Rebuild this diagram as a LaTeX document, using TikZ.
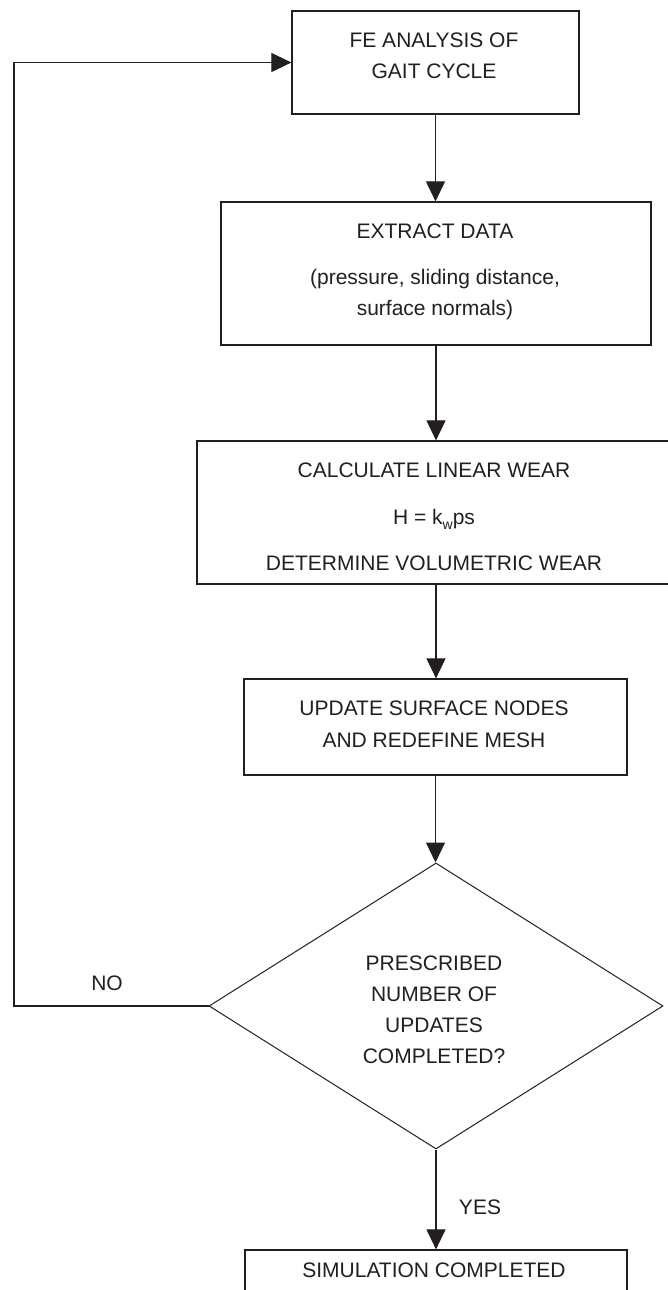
\documentclass[tikz,border=0pt]{standalone}
\usepackage{fontspec}
\setmainfont{Liberation Sans}
\usetikzlibrary{arrows.meta,shapes.geometric}
\definecolor{ink}{RGB}{35,31,32}
\begin{document}
\begin{tikzpicture}[x=1pt,y=-1pt,
  box/.style={draw=ink,line width=1.2pt,rectangle,inner sep=0pt,minimum width=#1},
  dec/.style={draw=ink,line width=1pt,diamond,inner sep=0pt,minimum width=454pt,minimum height=286pt},
  txt/.style={text=ink,font=\fontsize{21}{25}\selectfont,text height=15pt,text depth=0pt,inner sep=0pt,anchor=center},
  conn/.style={draw=ink,line width=1.1pt,-{Triangle[length=20pt,width=19pt]}},
  plain/.style={draw=ink,line width=1.1pt}]
\useasboundingbox (0,0) rectangle (668,1290);
\clip (0,0) rectangle (668,1290);
\fill[white] (0,0) rectangle (668,1290);
% boxes
\node[box=287pt,minimum height=103pt] (b1) at (435.5,62.5) {};
\node[box=430pt,minimum height=143pt] (b2) at (436,273.5) {};
\node[box=478pt,minimum height=143pt] (b3) at (436,512.5) {};
\node[box=383pt,minimum height=96pt] (b4) at (435.5,727) {};
\node[dec] (d) at (436,1006) {};
\node[box=382pt,minimum height=96pt] (b5) at (436,1298) {};
% texts
\node[txt] (t1a) at (434,40) {FE ANALYSIS OF};
\node[txt] (t1b) at (434,71) {GAIT CYCLE};
\node[txt] (t2a) at (435,231) {EXTRACT DATA};
\node[txt] (t2b) at (435,277) {(pressure, sliding distance,};
\node[txt] (t2c) at (435,308) {surface normals)};
\node[txt] (t3a) at (434,470) {CALCULATE LINEAR WEAR};
\node[txt] (t3b) at (434,517) {H = k\raisebox{-5pt}{\fontsize{14}{14}\selectfont w}ps};
\node[txt] (t3c) at (434,563) {DETERMINE VOLUMETRIC WEAR};
\node[txt] (t4a) at (434,708) {UPDATE SURFACE NODES};
\node[txt] (t4b) at (434,740) {AND REDEFINE MESH};
\node[txt] (tda) at (434,963) {PRESCRIBED};
\node[txt] (tdb) at (434,994) {NUMBER OF};
\node[txt] (tdc) at (434,1025) {UPDATES};
\node[txt] (tdd) at (434,1056) {COMPLETED?};
\node[txt] (t5) at (434,1270) {SIMULATION COMPLETED};
\node[txt] (no) at (107,983) {NO};
\node[txt] (yes) at (480,1207) {YES};
% connectors
\coordinate (fb) at (14,0);
\draw[conn] (b1.south) -- (b1.south |- b2.north);
\draw[conn] (b2.south) -- (b3.north);
\draw[conn] (b3.south) -- (b3.south |- b4.north);
\draw[conn] (b4.south) -- (b4.south |- d.north);
\draw[conn] (d.south) -- (b5.north);
\draw[conn] (d.west) -- (d.west -| fb) |- (b1.west);
\end{tikzpicture}
\end{document}
